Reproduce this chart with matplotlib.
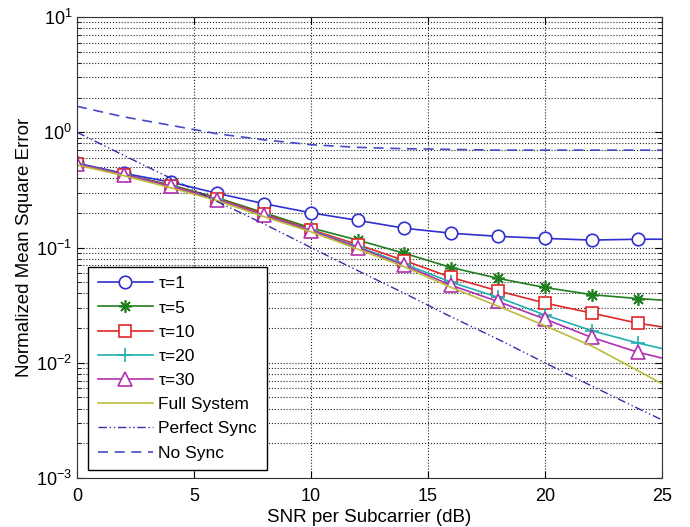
import matplotlib
matplotlib.use("Agg")
import matplotlib.pyplot as plt
import numpy as np

plt.rcParams['font.family'] = ['Liberation Sans', 'DejaVu Sans']

snr = [0, 2, 4, 6, 8, 10, 12, 14, 16, 18, 20, 22, 24, 25]

tau1 = [0.54, 0.44, 0.37, 0.295, 0.24, 0.20, 0.172, 0.147, 0.133, 0.125, 0.120, 0.116, 0.118, 0.118]
tau5 = [0.53, 0.43, 0.35, 0.27, 0.20, 0.148, 0.116, 0.089, 0.067, 0.054, 0.045, 0.039, 0.036, 0.035]
tau10 = [0.53, 0.43, 0.345, 0.265, 0.195, 0.143, 0.106, 0.077, 0.055, 0.042, 0.033, 0.027, 0.022, 0.0205]
tau20 = [0.53, 0.43, 0.34, 0.262, 0.19, 0.141, 0.102, 0.072, 0.050, 0.037, 0.026, 0.019, 0.0148, 0.0133]
tau30 = [0.53, 0.43, 0.34, 0.26, 0.19, 0.140, 0.100, 0.070, 0.047, 0.034, 0.024, 0.0166, 0.0123, 0.011]
full_system = [0.52, 0.42, 0.33, 0.255, 0.185, 0.137, 0.097, 0.068, 0.045, 0.031, 0.021, 0.014, 0.0085, 0.0066]
perfect_sync = [1.0, 0.63, 0.40, 0.25, 0.16, 0.10, 0.063, 0.040, 0.025, 0.016, 0.010, 0.0063, 0.0040, 0.0032]
no_sync = [1.68, 1.36, 1.15, 0.97, 0.86, 0.78, 0.74, 0.72, 0.71, 0.70, 0.70, 0.70, 0.70, 0.70]

labels = ['τ=1', 'τ=5', 'τ=10', 'τ=20', 'τ=30', 'Full System', 'Perfect Sync', 'No Sync']

fig = plt.figure(figsize=(6.9, 5.27), dpi=100)
ax = fig.add_axes([0.1116, 0.093, 0.8474, 0.8747])

mk = list(range(13))
lw = 1.2
ax.plot(snr, tau1, color='#3030d0', lw=lw, marker='o', ms=9, mfc='white', mew=1.2, markevery=mk, label=labels[0])
ax.plot(snr, tau5, color='#1f7f1f', lw=lw, marker=(8, 2, 0), ms=9, mew=1.2, markevery=mk, label=labels[1])
ax.plot(snr, tau10, color='#e02828', lw=lw, marker='s', ms=8.5, mfc='white', mew=1.2, markevery=mk, label=labels[2])
ax.plot(snr, tau20, color='#20b0b0', lw=lw, marker='+', ms=10, mew=1.2, markevery=mk, label=labels[3])
ax.plot(snr, tau30, color='#b030b0', lw=lw, marker='^', ms=9.5, mfc='white', mew=1.2, markevery=mk, label=labels[4])
ax.plot(snr, full_system, color='#bcbc3a', lw=lw, label=labels[5])
ax.plot(snr, perfect_sync, color='#3030a8', lw=1.0, ls=(0, (6, 2, 1, 2, 1, 2)), label=labels[6])
ax.plot(snr, no_sync, color='#4848c8', lw=1.2, ls=(0, (6, 4)), label=labels[7])

ax.set_yscale('log')
ax.set_xlim(0, 25)
ax.set_ylim(1e-3, 1e1)
ax.set_xticks([0, 5, 10, 15, 20, 25])
ax.tick_params(which='both', direction='in', top=True, right=True, labelsize=13)
ax.tick_params(which='major', length=5)
ax.tick_params(which='minor', length=3)
ax.tick_params(axis='x', pad=7)
ax.grid(True, which='major', color='#222222', ls=':', lw=0.8)
ax.grid(True, which='minor', axis='y', color='#222222', ls=':', lw=0.8)
for s in ax.spines.values():
    s.set_color('#333333')

ax.set_xlabel('SNR per Subcarrier (dB)', fontsize=13.5, labelpad=3)
ax.set_ylabel('Normalized Mean Square Error', fontsize=13.5, labelpad=2)

leg = ax.legend(loc='lower left', bbox_to_anchor=(0.019, 0.017), fontsize=12.5, fancybox=False,
                framealpha=1, edgecolor='black', borderpad=0.55, labelspacing=0.52,
                handlelength=3.2, handletextpad=0.3, borderaxespad=0)
leg.get_frame().set_linewidth(1.0)

fig.savefig('out.png', dpi=100)
